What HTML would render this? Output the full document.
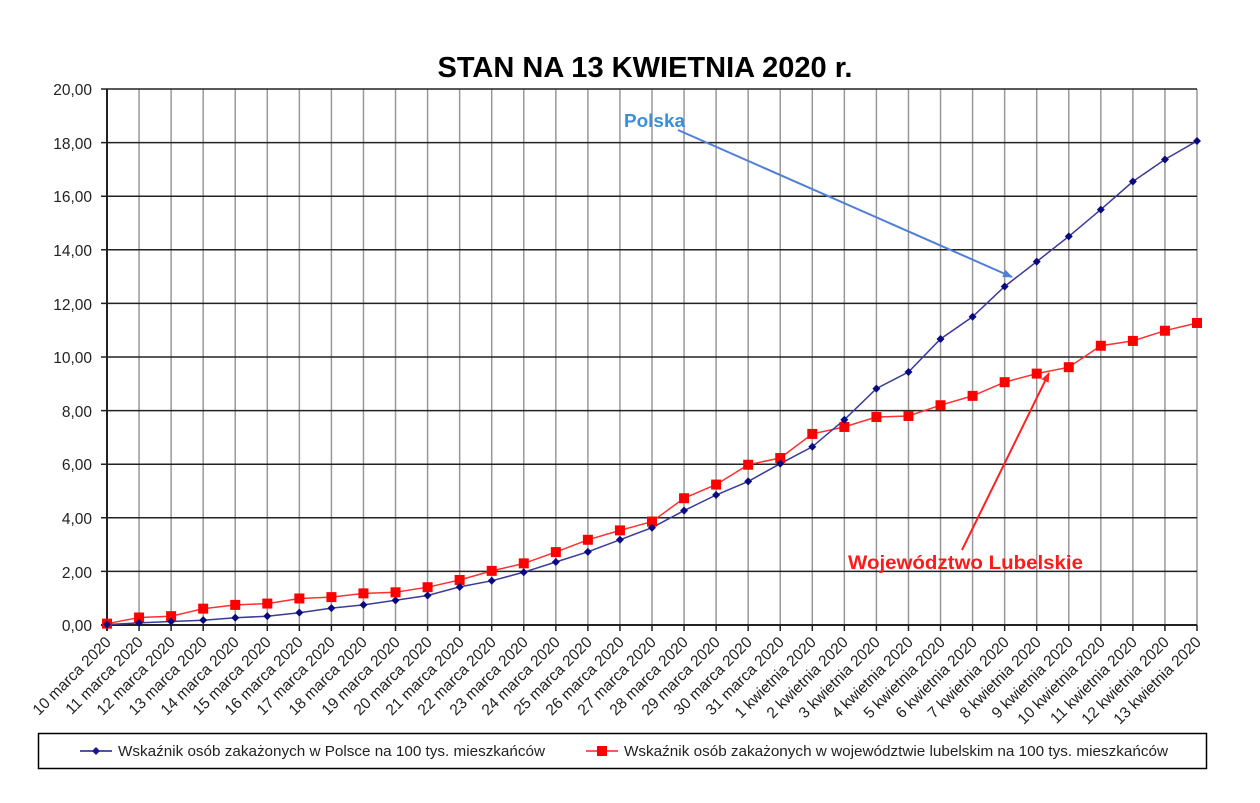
<!DOCTYPE html>
<html><head><meta charset="utf-8"><style>
html,body{margin:0;padding:0;background:#fff;}
svg{display:block;font-family:"Liberation Sans",sans-serif;}
</style></head><body>
<svg id="s" width="1260" height="803" viewBox="0 0 1260 803" xmlns="http://www.w3.org/2000/svg">
<rect width="1260" height="803" fill="#fff"/>
<text x="645" y="77" text-anchor="middle" font-size="29" font-weight="bold" fill="#000" textLength="415" lengthAdjust="spacingAndGlyphs">STAN NA 13 KWIETNIA 2020 r.</text>
<g id="grid"></g>
<g font-size="15.5" fill="#222" text-anchor="end">
<text x="92" y="95">20,00</text><text x="92" y="149">18,00</text><text x="92" y="202">16,00</text><text x="92" y="256">14,00</text><text x="92" y="310">12,00</text><text x="92" y="363">10,00</text><text x="92" y="417">8,00</text><text x="92" y="470">6,00</text><text x="92" y="524">4,00</text><text x="92" y="578">2,00</text><text x="92" y="631">0,00</text>
</g>
<g font-size="15.5" fill="#222" text-anchor="end">
<text transform="translate(112,643) rotate(-45)">10 marca 2020</text>
<text transform="translate(144,643) rotate(-45)">11 marca 2020</text>
<text transform="translate(176,643) rotate(-45)">12 marca 2020</text>
<text transform="translate(208,643) rotate(-45)">13 marca 2020</text>
<text transform="translate(240,643) rotate(-45)">14 marca 2020</text>
<text transform="translate(272,643) rotate(-45)">15 marca 2020</text>
<text transform="translate(304,643) rotate(-45)">16 marca 2020</text>
<text transform="translate(336,643) rotate(-45)">17 marca 2020</text>
<text transform="translate(368,643) rotate(-45)">18 marca 2020</text>
<text transform="translate(401,643) rotate(-45)">19 marca 2020</text>
<text transform="translate(433,643) rotate(-45)">20 marca 2020</text>
<text transform="translate(465,643) rotate(-45)">21 marca 2020</text>
<text transform="translate(497,643) rotate(-45)">22 marca 2020</text>
<text transform="translate(529,643) rotate(-45)">23 marca 2020</text>
<text transform="translate(561,643) rotate(-45)">24 marca 2020</text>
<text transform="translate(593,643) rotate(-45)">25 marca 2020</text>
<text transform="translate(625,643) rotate(-45)">26 marca 2020</text>
<text transform="translate(657,643) rotate(-45)">27 marca 2020</text>
<text transform="translate(689,643) rotate(-45)">28 marca 2020</text>
<text transform="translate(721,643) rotate(-45)">29 marca 2020</text>
<text transform="translate(753,643) rotate(-45)">30 marca 2020</text>
<text transform="translate(785,643) rotate(-45)">31 marca 2020</text>
<text transform="translate(817,643) rotate(-45)">1 kwietnia 2020</text>
<text transform="translate(849,643) rotate(-45)">2 kwietnia 2020</text>
<text transform="translate(881,643) rotate(-45)">3 kwietnia 2020</text>
<text transform="translate(914,643) rotate(-45)">4 kwietnia 2020</text>
<text transform="translate(946,643) rotate(-45)">5 kwietnia 2020</text>
<text transform="translate(978,643) rotate(-45)">6 kwietnia 2020</text>
<text transform="translate(1010,643) rotate(-45)">7 kwietnia 2020</text>
<text transform="translate(1042,643) rotate(-45)">8 kwietnia 2020</text>
<text transform="translate(1074,643) rotate(-45)">9 kwietnia 2020</text>
<text transform="translate(1106,643) rotate(-45)">10 kwietnia 2020</text>
<text transform="translate(1138,643) rotate(-45)">11 kwietnia 2020</text>
<text transform="translate(1170,643) rotate(-45)">12 kwietnia 2020</text>
<text transform="translate(1202,643) rotate(-45)">13 kwietnia 2020</text>
</g>
<g id="series"></g>
<defs>
<marker id="ab" markerWidth="10" markerHeight="8" refX="9" refY="4" orient="auto" markerUnits="userSpaceOnUse"><path d="M0,0 L10,4 L0,8 z" fill="#4f7fd6"/></marker>
<marker id="ar" markerWidth="10" markerHeight="8" refX="9" refY="4" orient="auto" markerUnits="userSpaceOnUse"><path d="M0,0 L10,4 L0,8 z" fill="#ff2020"/></marker>
</defs>
<line x1="678" y1="130" x2="1012" y2="277" stroke="#4f7fd6" stroke-width="2" marker-end="url(#ab)"/>
<text x="624" y="127" font-size="18" font-weight="bold" fill="#3a8fd8" textLength="61" lengthAdjust="spacingAndGlyphs">Polska</text>
<line x1="962" y1="550" x2="1049" y2="373" stroke="#ff2020" stroke-width="2" marker-end="url(#ar)"/>
<text x="848" y="569" font-size="19" font-weight="bold" fill="#ff1a1a" textLength="235" lengthAdjust="spacingAndGlyphs">Województwo Lubelskie</text>
<rect x="38.5" y="733.5" width="1168" height="35" fill="none" stroke="#000" stroke-width="1.5"/>
<line x1="80" y1="751" x2="112" y2="751" stroke="#1a1a8c" stroke-width="1.5"/>
<path d="M96,747 L100,751 L96,755 L92,751 z" fill="#1a1a8c"/>
<text x="118" y="756" font-size="15" fill="#222" textLength="427" lengthAdjust="spacingAndGlyphs">Wskaźnik osób zakażonych w Polsce na 100 tys. mieszkańców</text>
<line x1="586" y1="751" x2="618" y2="751" stroke="#ff2020" stroke-width="1.5"/>
<rect x="597" y="746" width="10" height="10" fill="#ff0000"/>
<text x="624" y="756" font-size="15" fill="#222" textLength="544" lengthAdjust="spacingAndGlyphs">Wskaźnik osób zakażonych w województwie lubelskim na 100 tys. mieszkańców</text>
</svg>
<script>
var NS="http://www.w3.org/2000/svg";
function el(p,t,a){var e=document.createElementNS(NS,t);for(var k in a)e.setAttribute(k,a[k]);p.appendChild(e);return e;}
var g=document.getElementById("grid"),s=document.getElementById("series");
function X(i){return 107+i*1090/34;}function Y(v){return 625-v*26.8;}
for(var i=1;i<=34;i++){el(g,"line",{x1:X(i),y1:89,x2:X(i),y2:625,stroke:"#999","stroke-width":1.5});el(g,"line",{x1:X(i),y1:625,x2:X(i),y2:631,stroke:"#222","stroke-width":1.5});}
for(var v=2;v<=20;v+=2){el(g,"line",{x1:101,y1:Y(v),x2:1197,y2:Y(v),stroke:"#222","stroke-width":1.5});}
el(g,"line",{x1:101,y1:625,x2:1197,y2:625,stroke:"#222","stroke-width":2});
el(g,"line",{x1:107,y1:89,x2:107,y2:631,stroke:"#222","stroke-width":2});
var P=[0.02,0.08,0.13,0.18,0.27,0.33,0.46,0.63,0.75,0.92,1.1,1.42,1.65,1.97,2.35,2.73,3.18,3.63,4.27,4.85,5.36,6.02,6.65,7.66,8.82,9.44,10.67,11.5,12.63,13.56,14.5,15.5,16.55,17.37,18.06];
var L=[0.05,0.28,0.33,0.61,0.75,0.8,0.99,1.04,1.18,1.22,1.41,1.68,2.02,2.3,2.72,3.18,3.53,3.86,4.73,5.24,5.98,6.23,7.13,7.39,7.76,7.8,8.2,8.55,9.06,9.38,9.62,10.42,10.6,10.98,11.27];
function pts(a){return a.map(function(v,i){return X(i).toFixed(1)+","+Y(v).toFixed(1);}).join(" ");}
el(s,"polyline",{points:pts(L),fill:"none",stroke:"#ff3030","stroke-width":1.5});
el(s,"polyline",{points:pts(P),fill:"none",stroke:"#3a3a9a","stroke-width":1.5});
L.forEach(function(v,i){el(s,"rect",{x:X(i)-5,y:Y(v)-5,width:10,height:10,fill:"#ff0000"});});
P.forEach(function(v,i){var x=X(i),y=Y(v);el(s,"path",{d:"M"+x+","+(y-4)+" L"+(x+4)+","+y+" L"+x+","+(y+4)+" L"+(x-4)+","+y+" z",fill:"#0a0a80"});});
</script>
</body></html>
